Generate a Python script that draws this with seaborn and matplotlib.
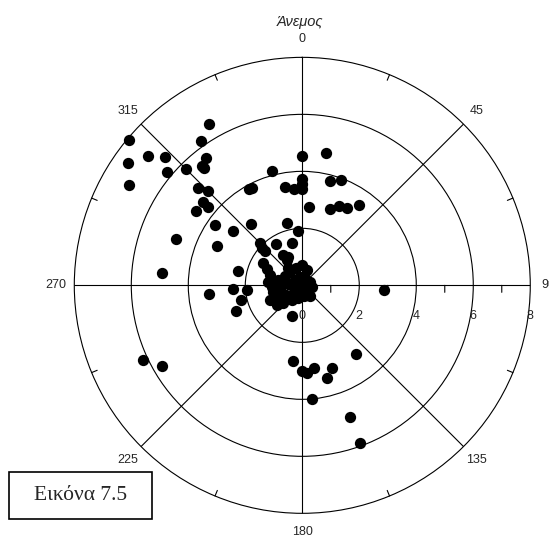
import numpy as np
import pandas as pd
import matplotlib
matplotlib.use("Agg")
import matplotlib.pyplot as plt
from matplotlib.patches import Rectangle
import seaborn as sns

# wind direction (degrees from north, clockwise) and wind speed
direction = [330, 310, 325, 310, 313, 323, 305, 320, 320, 310, 315, 300, 313, 315,
             310, 310, 305, 331, 333, 350, 355, 345, 305, 308, 320, 290, 295, 315,
             313, 313, 328, 346, 346, 328, 334, 328, 275, 283, 265, 267, 265, 257,
             249, 356, 300, 294, 288, 275, 245, 232, 199,
             0, 10, 0, 0, 0, 15, 20, 5, 20, 25, 30, 35,
             93,
             245, 240, 187, 180, 177, 172, 160, 165, 142, 175, 160, 160,
             358, 16, 340, 317, 298, 282, 267, 263, 275, 306, 344, 20, 67, 100,
             140, 206, 231, 239, 240, 238, 227, 215, 199, 171, 144, 320, 257, 273,
             279, 90]
speed = [6.52, 7.95, 6.18, 7.08, 6.60, 5.61, 7.48, 5.48, 5.37, 6.21, 5.79, 7.02, 5.02, 4.70,
         4.57, 4.30, 4.54, 3.88, 3.85, 3.50, 3.38, 4.16, 3.72, 3.07, 2.82, 4.72, 3.30, 2.11,
         1.91, 1.77, 1.71, 1.52, 2.27, 1.27, 1.12, 1.04, 4.94, 2.31, 3.29, 2.42, 1.96, 2.22,
         2.50, 1.91, 1.59, 1.37, 1.19, 1.20, 1.25, 1.13, 1.14,
         4.53, 4.72, 3.73, 3.55, 3.37, 3.79, 3.93, 2.76, 2.85, 3.07, 3.13, 3.45,
         2.88,
         6.17, 5.67, 2.68, 3.01, 3.07, 2.94, 3.07, 3.36, 3.05, 3.99, 4.93, 5.88,
         0.71, 0.56, 0.65, 0.64, 0.69, 0.87, 1.06, 0.79, 0.50, 0.32, 0.30, 0.27, 0.29, 0.35,
         0.31, 0.18, 0.37, 0.67, 0.90, 1.09, 0.92, 0.63, 0.47, 0.38, 0.46, 0.79, 1.06, 0.22,
         0.72, 0.10]

angle_labels = ["0", "45", "90", "135", "180", "225", "270", "315"]
ring_labels = ["0", "2", "4", "6", "8"]

df = pd.DataFrame({"theta": np.deg2rad(direction), "speed": speed})

sns.set_style("white")
plt.rcParams["font.family"] = ["Liberation Sans", "DejaVu Sans"]

fig = plt.figure(figsize=(5.49, 5.40), dpi=100)
ax = fig.add_axes([0.1353, 0.0494, 0.8306, 0.8444], projection="polar")
ax.set_theta_zero_location("N")
ax.set_theta_direction(-1)
ax.set_ylim(0, 8)

sns.scatterplot(data=df, x="theta", y="speed", ax=ax, color="black", s=66,
                linewidth=0, legend=False, zorder=3, clip_on=False)

# grid: spokes every 45 deg, rings at 2,4,6 (8 = outer circle)
ax.set_xticks(np.deg2rad(np.arange(0, 360, 45)))
ax.set_xticklabels([])
ax.set_yticks([2, 4, 6])
ax.set_yticklabels([])
ax.tick_params(axis="x", length=0)
ax.tick_params(axis="y", length=0)
ax.grid(True, color="black", linewidth=0.8)
ax.spines["polar"].set_color("black")
ax.spines["polar"].set_linewidth(0.8)
ax.set_xlabel("")
ax.set_ylabel("")

# small inward ticks on the outer circle, between the spokes
for a in np.arange(22.5, 360, 45):
    t = np.deg2rad(a)
    ax.annotate("", xy=(t, 8), xytext=(-6 * np.sin(t), -6 * np.cos(t)),
                textcoords="offset pixels",
                arrowprops=dict(arrowstyle="-", color="black", lw=0.8,
                                shrinkA=0, shrinkB=0))

# angle labels outside the circle
for i, lab in enumerate(angle_labels):
    ax.text(np.deg2rad(i * 45), 8.65, lab, ha="center", va="center",
            fontsize=9, clip_on=False)

# radial scale along the 90 deg spoke
for i, lab in enumerate(ring_labels):
    ax.annotate(lab, xy=(np.pi / 2, i * 2), xytext=(0, -31),
                textcoords="offset pixels", ha="center", va="center", fontsize=9)
for r in [1, 3, 5, 7]:
    ax.annotate("", xy=(np.pi / 2, r), xytext=(0, -7), textcoords="offset pixels",
                arrowprops=dict(arrowstyle="-", color="black", lw=0.8,
                                shrinkA=0, shrinkB=0))

fig.text(300 / 549, 1 - 21.7 / 540, "Άνεμος", ha="center", va="center",
         fontsize=10.5, style="italic")

fig.add_artist(Rectangle((8.7 / 549, 1 - 519.3 / 540), 143.6 / 549, 47.6 / 540,
                         transform=fig.transFigure, fill=False,
                         edgecolor="black", linewidth=1.2))
fig.text(81 / 549, 1 - 495 / 540, "Εικόνα 7.5", ha="center", va="center",
         fontsize=15.5, family=["Liberation Serif", "DejaVu Serif"])

fig.savefig("out.png", dpi=100)
